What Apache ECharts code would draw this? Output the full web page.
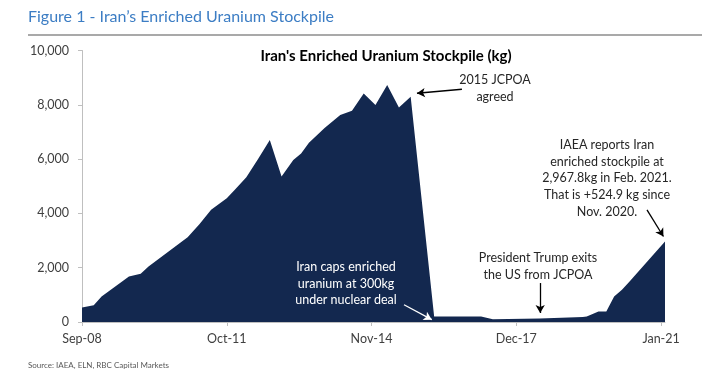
<!DOCTYPE html>
<html><head><meta charset="utf-8">
<script src="https://cdn.jsdelivr.net/npm/echarts@6/dist/echarts.min.js"></script>
<style>html,body{margin:0;padding:0;background:#fff}#c{width:702px;height:375px}</style>
</head><body><div id="c"></div>
<script>
// ---- data ----
const startMonth = '2008-09';
const dates = ['2008-09','2008-12','2009-02','2009-09','2009-12','2010-02','2010-12','2011-03','2011-06','2011-10','2011-12','2012-03','2012-06','2012-09','2012-12','2013-03','2013-05','2013-07','2013-11','2014-03','2014-06','2014-09','2014-12','2015-03','2015-06','2015-09','2016-03','2017-03','2017-06','2018-06','2019-05','2019-06','2019-09','2019-11','2020-01','2020-03','2020-05','2021-02'];
const stockpileKg = [530,620,940,1680,1780,2040,3120,3600,4130,4560,4860,5330,6000,6700,5360,5970,6210,6600,7150,7620,7780,8420,7990,8730,7900,8300,206,206,100,130,180,200,390,390,940,1190,1500,2968];
const tickLabels = ['Sep-08','Oct-11','Nov-14','Dec-17','Jan-21'];
const tickMonths = [0,37,74,111,148];

function monthIndex(s){const [y,m]=s.split('-').map(Number);const [y0,m0]=startMonth.split('-').map(Number);return (y-y0)*12+(m-m0);}
const seriesData = dates.map((d,i)=>[monthIndex(d), stockpileKg[i]]);

const FONT = 'Lato';
const chart = echarts.init(document.getElementById('c'), null, {renderer:'canvas'});
const arrow = (a,b,color)=>[{coord:a, lineStyle:{color:color,width:1.3,type:'solid'}},{coord:b}];
chart.setOption({
  animation:false,
  textStyle:{fontFamily:FONT},
  grid:{left:82,right:37,top:50.5,bottom:53},
  xAxis:{type:'value',min:0,max:149,interval:37,
    axisLine:{show:true,lineStyle:{color:'#BFBFBF',width:1}},
    axisTick:{show:true,length:4,lineStyle:{color:'#BFBFBF'},customValues:tickMonths},
    axisLabel:{customValues:tickMonths,color:'#404040',fontSize:12.5,fontFamily:FONT,margin:10,
      formatter:v=>{const i=tickMonths.indexOf(v);return i>=0?tickLabels[i]:'';}},
    splitLine:{show:false}},
  yAxis:{type:'value',min:0,max:10000,interval:2000,
    axisLine:{show:true,lineStyle:{color:'#BFBFBF',width:1}},
    axisTick:{show:true,length:4,lineStyle:{color:'#BFBFBF'}},
    axisLabel:{color:'#404040',fontSize:12.5,fontFamily:FONT,margin:13,
      formatter:v=>v.toLocaleString('en-US')},
    splitLine:{show:false}},
  series:[{type:'line',data:seriesData,symbol:'none',
    lineStyle:{width:0},areaStyle:{color:'#13284F',opacity:1},
    markLine:{silent:true,symbol:['none','arrow'],symbolSize:[7,8],label:{show:false},
      data:[
        arrow([97.1,8572],[85.6,8425],'#000'),
        arrow([144.4,4131],[148.6,3149],'#000'),
        arrow([117.1,1435],[117.1,331],'#000'),
        arrow([82.3,636],[89.4,85],'#fff')
      ]}
  }],
  graphic:{elements:[
    {type:'text',z:100,left:28,top:9,style:{text:'Figure 1 - Iran\u2019s Enriched Uranium Stockpile',fill:'#3C7DC4',font:'16px '+FONT}},
    {type:'line',z:100,shape:{x1:28,y1:35,x2:702,y2:35},style:{stroke:'#8C8C8C',lineWidth:1.5}},
    {type:'text',z:100,x:386,y:56,style:{text:"Iran's Enriched Uranium Stockpile (kg)",fill:'#000',font:'bold 15px '+FONT,align:'center',verticalAlign:'middle'}},
    {type:'text',z:100,x:495,y:88.5,style:{text:'2015 JCPOA\nagreed',fill:'#262626',font:'12.5px '+FONT,align:'center',verticalAlign:'middle',lineHeight:16.7}},
    {type:'text',z:100,x:607,y:178.3,style:{text:'IAEA reports Iran\nenriched stockpile at\n2,967.8kg in Feb. 2021.\nThat is +524.9 kg since\nNov. 2020.',fill:'#262626',font:'12.5px '+FONT,align:'center',verticalAlign:'middle',lineHeight:16.7}},
    {type:'text',z:100,x:538,y:266.5,style:{text:'President Trump exits\nthe US from JCPOA',fill:'#262626',font:'12.5px '+FONT,align:'center',verticalAlign:'middle',lineHeight:16.4}},
    {type:'text',z:100,x:346,y:283.5,style:{text:'Iran caps enriched\nuranium at 300kg\nunder nuclear deal',fill:'#ffffff',font:'12.5px '+FONT,align:'center',verticalAlign:'middle',lineHeight:16.4}},
    {type:'text',z:100,left:28,top:361,style:{text:'Source: IAEA, ELN, RBC Capital Markets',fill:'#595959',font:'8px '+FONT}}
  ]}
});
</script></body></html>
